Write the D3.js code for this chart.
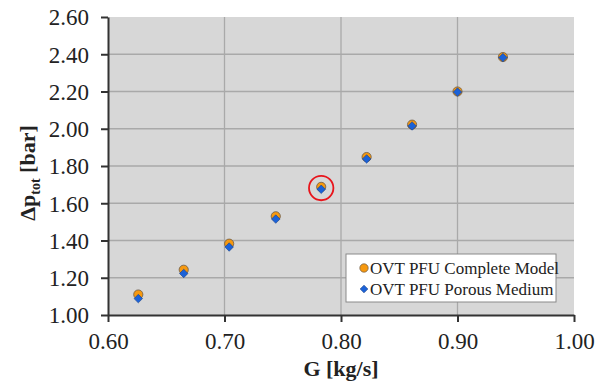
<!DOCTYPE html>
<html>
<head>
<meta charset="utf-8">
<script src="https://cdn.jsdelivr.net/npm/d3@7"></script>
<style>
  body { margin: 0; background: #fff; }
  svg { display: block; }
  svg text { font-family: "Liberation Serif", "Times New Roman", serif; }
</style>
</head>
<body>
<svg width="607" height="386"></svg>
<script>
// ---- data ----
const massFlow      = [0.626, 0.665, 0.704, 0.744, 0.783, 0.822, 0.861, 0.900, 0.939];
const completeModel = [1.110, 1.243, 1.383, 1.530, 1.688, 1.848, 2.022, 2.200, 2.385];
const porousMedium  = [1.088, 1.223, 1.365, 1.515, 1.675, 1.838, 2.015, 2.197, 2.382];
const xTicks = [0.60, 0.70, 0.80, 0.90, 1.00];
const yTicks = [1.00, 1.20, 1.40, 1.60, 1.80, 2.00, 2.20, 2.40, 2.60];
const highlightIndex = 4;
const seriesNames = ["OVT PFU Complete Model", "OVT PFU Porous Medium"];

// ---- layout ----
const margin = {top: 17, right: 33, bottom: 71, left: 108};
const W = 607, H = 386;
const innerW = W - margin.left - margin.right,
      innerH = H - margin.top - margin.bottom;
const serif = "'Liberation Serif', 'Times New Roman', serif";

const svg = d3.select("svg");
const g = svg.append("g").attr("transform", `translate(${margin.left},${margin.top})`);

const x = d3.scaleLinear().domain([0.6, 1.0]).range([0, innerW]);
const y = d3.scaleLinear().domain([1.0, 2.6]).range([innerH, 0]);

// plot background
g.append("rect").attr("width", innerW).attr("height", innerH).attr("fill", "#d7d7d7");

// grid
g.append("g").selectAll("line").data(yTicks.slice(1, -1)).enter().append("line")
  .attr("x1", 0).attr("x2", innerW)
  .attr("y1", d => y(d)).attr("y2", d => y(d))
  .attr("stroke", "#a9a9a9").attr("stroke-width", 1.3);
g.append("g").selectAll("line").data(xTicks.slice(1, -1)).enter().append("line")
  .attr("y1", 0).attr("y2", innerH)
  .attr("x1", d => x(d)).attr("x2", d => x(d))
  .attr("stroke", "#a9a9a9").attr("stroke-width", 1.3);

// axes
const xAxis = g.append("g").attr("transform", `translate(0,${innerH})`)
  .call(d3.axisBottom(x).tickValues(xTicks).tickFormat(d3.format(".2f")).tickSizeInner(7).tickSizeOuter(0).tickPadding(11));
const yAxis = g.append("g")
  .call(d3.axisLeft(y).tickValues(yTicks).tickFormat(d3.format(".2f")).tickSizeInner(7).tickSizeOuter(0).tickPadding(12));
[xAxis, yAxis].forEach(a => {
  a.attr("font-family", serif).attr("font-size", 23);
  a.select(".domain").attr("stroke", "#333").attr("stroke-width", 2);
  a.selectAll(".tick line").attr("stroke", "#333").attr("stroke-width", 2);
  a.selectAll(".tick text").attr("fill", "#222");
});
yAxis.selectAll(".tick text").attr("dy", "0.34em");

// axis titles
g.append("text")
  .attr("x", innerW / 2).attr("y", innerH + 61)
  .attr("text-anchor", "middle")
  .attr("font-family", serif).attr("font-size", 22).attr("font-weight", "bold").attr("fill", "#222")
  .text("G [kg/s]");

const yl = g.append("text")
  .attr("transform", `translate(${-73},${innerH / 2 + 7}) rotate(-90)`)
  .attr("text-anchor", "middle")
  .attr("font-family", serif).attr("font-size", 22).attr("font-weight", "bold").attr("fill", "#222");
yl.append("tspan").text("Δp");
yl.append("tspan").attr("dy", 5).attr("font-size", 14).text("tot");
yl.append("tspan").attr("dy", -5).text(" [bar]");

// markers
const complete = massFlow.map((v, i) => ({g: v, p: completeModel[i]}));
const porous   = massFlow.map((v, i) => ({g: v, p: porousMedium[i]}));

g.append("g").selectAll("circle").data(complete).enter().append("circle")
  .attr("cx", d => x(d.g)).attr("cy", d => y(d.p)).attr("r", 4.6)
  .attr("fill", "#f7990f").attr("stroke", "#6b5a48").attr("stroke-width", 0.8);

const diamond = d3.symbol().type(d3.symbolDiamond2).size(46);
g.append("g").selectAll("path").data(porous).enter().append("path")
  .attr("transform", d => `translate(${x(d.g)},${y(d.p)})`)
  .attr("d", diamond)
  .attr("fill", "#1b62d8").attr("stroke", "#1a3f86").attr("stroke-width", 0.6);

// highlight ring
const hx = x(massFlow[highlightIndex]);
const hy = (y(completeModel[highlightIndex]) + y(porousMedium[highlightIndex])) / 2;
g.append("circle").attr("cx", hx).attr("cy", hy).attr("r", 12.2)
  .attr("fill", "none").attr("stroke", "#e8141b").attr("stroke-width", 1.8);

// legend
const lg = svg.append("g").attr("transform", "translate(346,254)");
lg.append("rect").attr("width", 210).attr("height", 48)
  .attr("fill", "#fff").attr("stroke", "#8a8a8a").attr("stroke-width", 1);
seriesNames.forEach((name, i) => {
  const row = lg.append("g").attr("transform", `translate(18,${14 + i * 21})`);
  if (i === 0) {
    row.append("circle").attr("r", 4.2).attr("fill", "#f7990f").attr("stroke", "#6b5a48").attr("stroke-width", 0.7);
  } else {
    row.append("path").attr("d", diamond.size(38)()).attr("fill", "#1b62d8").attr("stroke", "#1a3f86").attr("stroke-width", 0.6);
  }
  row.append("text").attr("x", 6).attr("dy", "0.35em")
    .attr("font-family", serif).attr("font-size", 17).attr("fill", "#222").text(name);
});
</script>
</body>
</html>
